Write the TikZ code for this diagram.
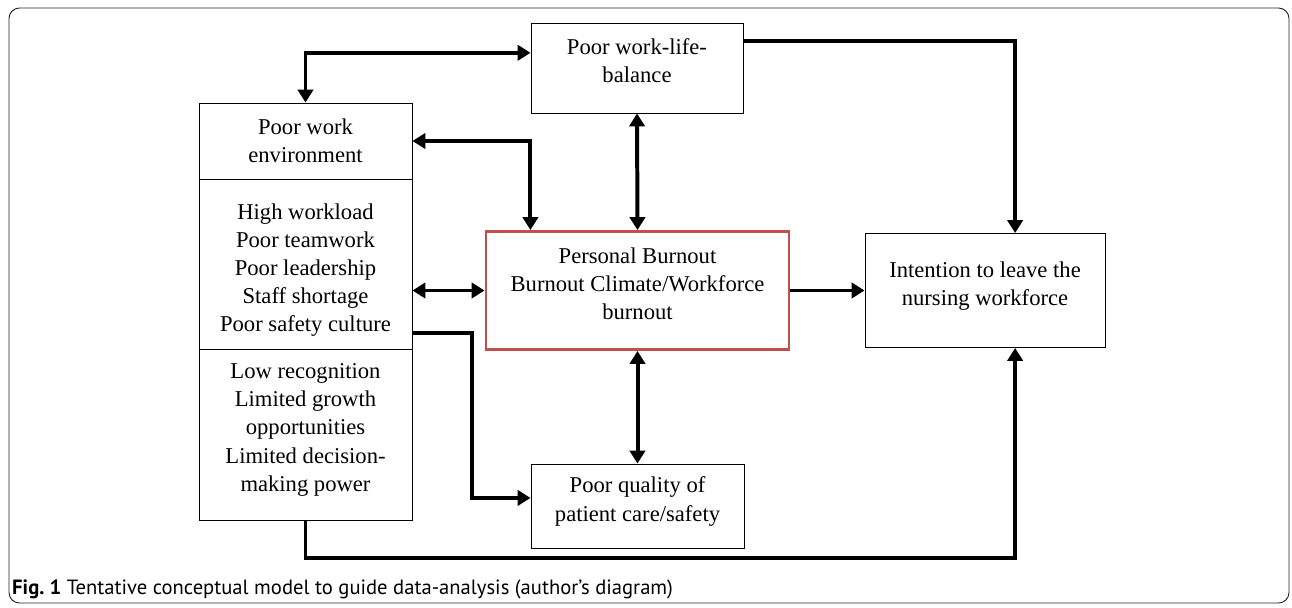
\documentclass[tikz,border=0pt]{standalone}
\usepackage{fontspec}
\setmainfont{Liberation Serif}
\newfontfamily\capfont{PT Sans}
\usetikzlibrary{arrows.meta,calc}
\definecolor{burnred}{RGB}{192,80,77}
\newcommand\liftup{\\[-12pt]\mbox{}}
\newcommand\pushdown{\mbox{}\\[0pt]}

\begin{document}
\begin{tikzpicture}[x=0.03cm,y=-0.03cm,
    box/.style={draw,line width=0.8pt,align=center,inner sep=0pt,font=\fontsize{19.3}{24}\selectfont},
    arr/.style={line width=3.4pt,-{Triangle[length=11pt,width=13pt]}},
    darr/.style={line width=3.4pt,{Triangle[length=11pt,width=13pt]}-{Triangle[length=11pt,width=13pt]}}]
    \useasboundingbox (0,0) rectangle (1292,607);
    \draw[gray!30!black,line width=0.8pt,rounded corners=9pt] (9,8) rectangle (1289,603);

    \node[box,minimum width=6.36cm,minimum height=2.7cm] (wlb) at (637,68) {Poor work-life-\\balance\liftup};
    \node[box,minimum width=6.39cm,minimum height=2.28cm] (lenv) at (305.5,141) {Poor work\\environment};
    \node[box,minimum width=6.39cm,minimum height=5.1cm] (lmid) at (305.5,264) {\pushdown High workload\\Poor teamwork\\Poor leadership\\Staff shortage\\Poor safety culture};
    \node[box,minimum width=6.39cm,minimum height=5.13cm] (lbot) at (305.5,434.5) {Low recognition\\Limited growth\\opportunities\\Limited decision-\\making power\liftup};
    \node[box,draw=burnred,line width=2.5pt,minimum width=9.09cm,minimum height=3.54cm] (burn) at (637.5,290.5) {Personal Burnout\\Burnout Climate/Workforce\\burnout\liftup};
    \node[box,minimum width=7.2cm,minimum height=3.42cm] (leave) at (985,290.5) {Intention to leave the\\nursing workforce\liftup};
    \node[box,minimum width=6.39cm,minimum height=2.52cm] (care) at (637.5,506) {Poor quality of\\patient care/safety\liftup};

    \coordinate (leavetop) at ($(leave.north west)!0.625!(leave.north east)$);
    \coordinate (leavebot) at ($(leave.south west)!0.625!(leave.south east)$);

    \draw[darr] ($(wlb.north west)!0.333!(wlb.south west)$) -| (lenv.north);
    \draw[darr] (lenv.east) -| ($(burn.north west)!0.15!(burn.north east)$);
    \draw[darr] (wlb.south) -- (burn.north);
    \draw[darr] (burn.west -| lmid.east) -- (burn.west);
    \draw[arr] (burn.east) -- (leave.west);
    \draw[arr] ($(wlb.north east)!0.2!(wlb.south east)$) -| (leavetop);
    \draw[arr] ($(lmid.north east)!0.906!(lmid.south east)$) -- ++(60,0) |- ($(care.north west)!0.405!(care.south west)$);
    \draw[darr] (burn.south) -- (care.north);
    \draw[arr] (lbot.south) -- ++(0,38) -| (leavebot);

    \node[anchor=west,inner sep=0pt,font=\capfont\fontsize{17.6}{20}\selectfont] (cap) at (12,589)
        {\textbf{Fig.~1} Tentative conceptual model to guide data-analysis (author’s diagram)};
\end{tikzpicture}
\end{document}
